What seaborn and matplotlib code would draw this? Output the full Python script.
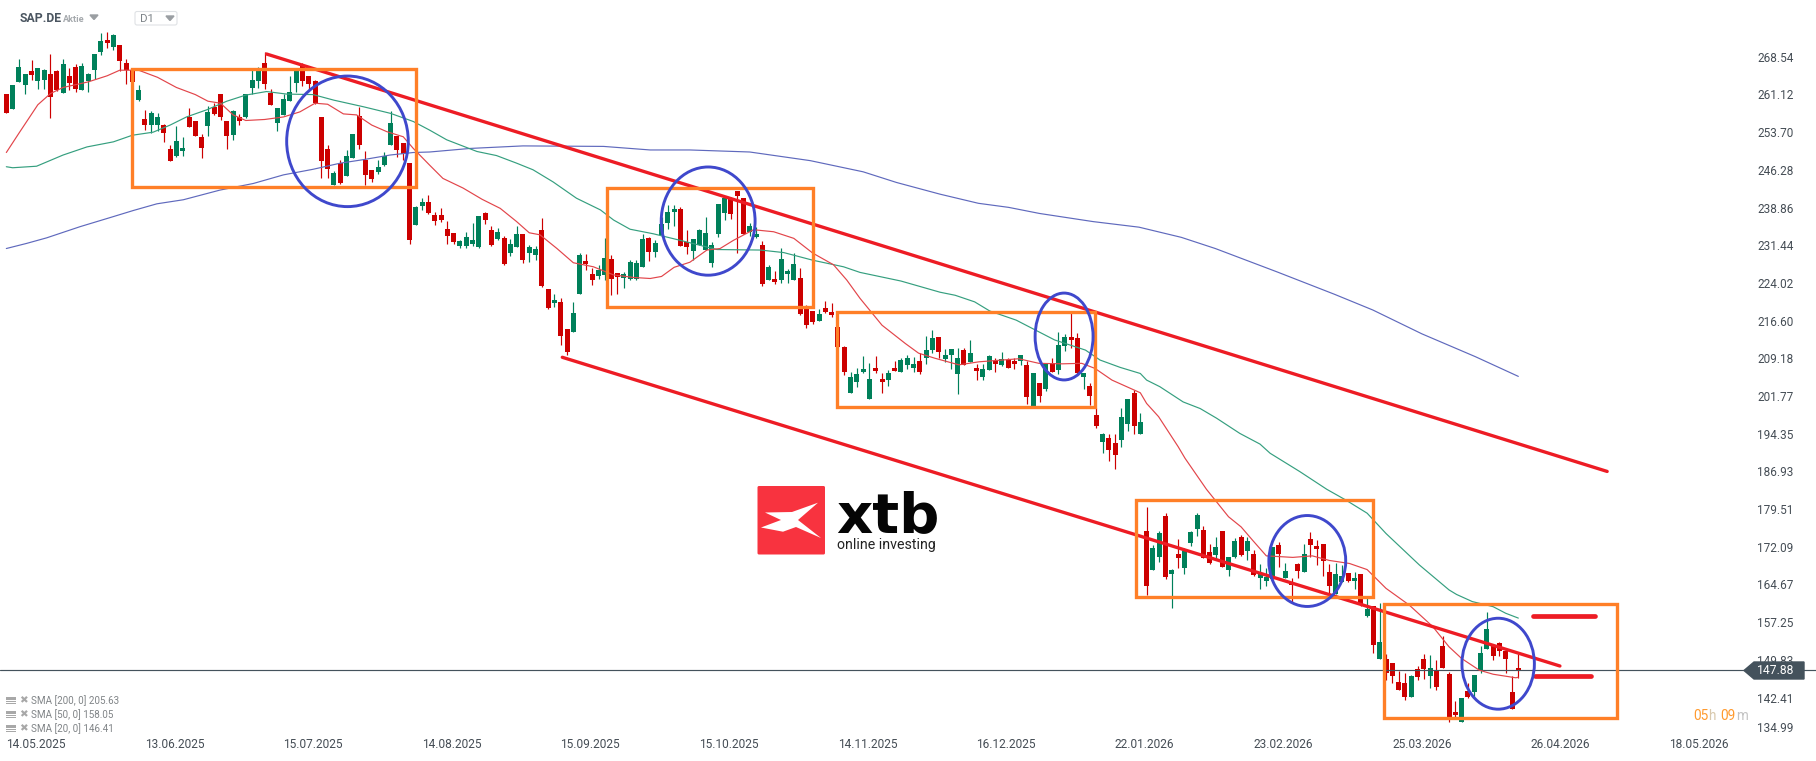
import numpy as np
import pandas as pd
import matplotlib
matplotlib.use('Agg')
import matplotlib.pyplot as plt
from matplotlib.patches import Rectangle, Ellipse, Polygon, FancyBboxPatch
import seaborn as sns

# daily candles
opens = [261.2, 258.3, 263.6, 262.9, 265.7, 263.8, 264.0, 265.2, 265.8, 261.5,
         264.8, 266.5, 262.1, 263.8, 265.9, 269.4, 271.9, 270.5, 270.9, 267.3,
         265.9, 260.0, 256.3, 255.1, 255.1, 255.1, 250.4, 249.0, 250.0, 256.7,
         255.9, 252.8, 254.9, 258.7, 261.2, 255.9, 253.2, 256.6, 256.7, 262.4,
         263.8, 267.3, 261.4, 255.6, 257.1, 259.8, 263.4, 266.7, 264.8, 263.8,
         256.7, 250.4, 243.3, 247.6, 245.1, 248.6, 256.9, 248.2, 246.3, 245.9,
         247.2, 251.2, 253.0, 251.6, 247.6, 235.4, 239.2, 240.0, 237.4, 237.4,
         234.6, 233.9, 231.3, 231.3, 231.7, 231.1, 237.8, 234.5, 232.7, 232.9,
         229.9, 231.1, 233.7, 229.9, 229.5, 234.5, 222.8, 220.1, 220.3, 215.0,
         214.4, 221.9, 228.4, 225.8, 225.4, 225.6, 228.7, 226.0, 225.0, 224.8,
         224.8, 227.2, 232.9, 230.1, 233.5, 235.8, 238.0, 238.6, 232.1, 230.3,
         231.5, 230.5, 228.0, 233.7, 237.8, 240.6, 242.1, 240.8, 234.1, 233.1,
         231.5, 224.6, 224.8, 224.6, 225.8, 224.6, 225.0, 218.9, 218.5, 216.5,
         219.1, 218.3, 215.3, 211.4, 202.4, 204.5, 206.5, 201.2, 207.3, 205.1,
         204.9, 207.3, 206.5, 207.9, 207.3, 208.7, 209.3, 210.8, 213.4, 209.0,
         209.8, 206.1, 210.8, 208.5, 207.3, 205.5, 206.9, 208.7, 207.9, 208.9,
         208.7, 208.7, 207.9, 199.8, 204.3, 203.2, 208.3, 206.9, 211.6, 213.4,
         213.2, 205.5, 203.7, 198.0, 192.7, 193.5, 192.5, 193.1, 196.3, 202.4,
         194.3, 175.2, 167.5, 170.1, 178.2, 166.7, 170.7, 167.9, 172.8, 175.6,
         175.4, 171.1, 170.5, 175.2, 167.5, 170.1, 174.0, 171.3, 170.7, 165.9,
         165.3, 165.7, 172.4, 165.9, 165.2, 168.7, 167.1, 173.6, 172.2, 172.6,
         167.1, 162.8, 165.2, 166.9, 165.3, 166.7, 158.5, 160.4, 150.0, 150.0,
         149.2, 145.5, 145.3, 142.5, 148.0, 150.0, 146.7, 147.8, 152.6, 147.0,
         139.6, 137.6, 143.7, 143.5, 147.6, 152.0, 152.8, 153.2, 151.6, 143.5,
         148.1]
highs = [261.3, 263.0, 268.2, 265.2, 268.0, 266.3, 266.1, 269.1, 265.9, 268.2,
         266.3, 267.1, 267.3, 265.3, 269.1, 273.2, 273.4, 273.0, 270.9, 268.2,
         265.9, 263.0, 258.1, 257.9, 257.4, 255.3, 251.2, 254.9, 252.8, 258.5,
         255.9, 253.3, 258.9, 259.4, 261.3, 255.9, 258.1, 257.3, 261.2, 265.9,
         266.5, 269.4, 262.2, 258.5, 261.3, 264.8, 265.7, 267.3, 264.8, 264.0,
         256.7, 251.2, 246.0, 248.2, 250.2, 253.3, 258.7, 250.0, 246.3, 248.2,
         249.8, 257.9, 253.0, 251.6, 247.6, 239.2, 240.7, 241.3, 238.0, 238.8,
         236.2, 233.9, 232.5, 234.1, 235.8, 237.2, 238.0, 235.2, 234.9, 233.3,
         232.7, 235.2, 233.7, 231.5, 231.3, 236.8, 222.8, 221.9, 221.1, 215.0,
         220.3, 229.9, 229.7, 227.0, 227.6, 232.9, 229.5, 226.0, 226.1, 228.5,
         228.5, 233.7, 233.1, 232.5, 237.1, 239.4, 239.4, 239.0, 234.5, 232.7,
         234.6, 237.0, 232.1, 239.6, 240.8, 241.0, 242.1, 240.8, 235.8, 235.0,
         232.3, 227.6, 226.4, 230.9, 226.8, 229.9, 227.0, 219.7, 218.5, 218.9,
         220.5, 220.1, 215.3, 211.6, 206.5, 207.3, 209.6, 208.3, 209.6, 206.3,
         206.9, 208.7, 209.3, 209.8, 209.5, 210.2, 213.6, 214.8, 213.4, 211.0,
         211.0, 211.2, 211.2, 212.8, 208.1, 208.1, 209.8, 209.3, 210.4, 209.3,
         209.3, 209.8, 208.7, 206.3, 204.3, 208.1, 209.3, 214.4, 214.0, 218.3,
         214.2, 206.3, 204.3, 199.4, 194.5, 194.3, 194.3, 199.4, 201.2, 202.9,
         198.4, 179.9, 172.4, 175.2, 178.7, 167.7, 173.6, 171.8, 175.2, 178.7,
         176.2, 172.6, 174.0, 175.2, 170.1, 173.8, 174.4, 174.0, 171.5, 168.7,
         167.9, 172.0, 173.0, 168.9, 165.9, 168.9, 172.6, 175.0, 173.4, 172.6,
         168.7, 168.9, 168.5, 166.9, 167.1, 166.7, 162.0, 160.4, 161.0, 151.0,
         149.2, 147.6, 147.2, 146.8, 148.6, 151.0, 150.8, 149.8, 154.5, 147.4,
         141.7, 142.3, 145.3, 146.8, 152.6, 159.3, 152.8, 153.3, 151.8, 146.7,
         151.0]
lows = [257.5, 258.3, 263.6, 261.2, 264.0, 262.2, 262.2, 256.4, 261.9, 261.5,
        262.0, 261.7, 262.0, 261.7, 264.1, 268.9, 270.3, 269.8, 265.8, 263.1,
        263.1, 259.8, 254.1, 253.6, 254.0, 251.8, 248.0, 248.9, 249.1, 254.7,
        253.0, 248.7, 253.0, 257.1, 256.1, 250.4, 252.2, 255.1, 256.4, 261.2,
        262.4, 262.2, 259.1, 253.9, 257.1, 259.8, 261.6, 262.8, 262.0, 259.2,
        244.7, 244.7, 243.3, 243.5, 245.0, 248.6, 250.4, 243.3, 243.9, 245.5,
        247.1, 251.2, 248.8, 248.2, 231.7, 235.4, 238.4, 237.6, 235.4, 236.0,
        231.7, 231.7, 230.9, 230.9, 231.3, 230.9, 235.6, 231.3, 232.5, 227.6,
        229.3, 231.1, 228.0, 228.2, 228.5, 223.2, 218.9, 219.3, 211.8, 209.9,
        214.4, 221.9, 226.6, 223.6, 224.8, 224.6, 221.7, 221.9, 223.0, 224.6,
        224.6, 227.2, 228.4, 229.1, 233.1, 234.6, 235.2, 231.3, 229.7, 228.5,
        231.5, 230.5, 227.2, 233.1, 236.4, 236.6, 229.9, 233.7, 233.3, 232.9,
        223.4, 224.6, 223.8, 224.0, 224.0, 224.6, 217.7, 215.2, 216.0, 216.5,
        218.1, 217.3, 211.4, 205.9, 202.4, 203.6, 206.3, 201.2, 206.3, 202.4,
        203.7, 206.7, 206.5, 207.1, 206.5, 206.1, 208.1, 210.2, 209.3, 208.5,
        207.1, 202.2, 207.9, 208.5, 204.9, 204.9, 206.9, 206.5, 207.7, 207.3,
        207.1, 207.9, 200.2, 199.8, 200.6, 202.8, 206.5, 206.1, 210.6, 211.2,
        206.1, 203.2, 200.0, 195.5, 190.6, 189.0, 187.4, 191.7, 194.9, 194.3,
        194.3, 162.6, 167.5, 169.1, 165.7, 160.0, 167.9, 166.7, 172.2, 174.2,
        169.9, 168.7, 169.5, 168.1, 166.3, 169.9, 170.3, 169.5, 166.3, 163.8,
        164.4, 165.7, 168.1, 165.9, 161.2, 165.9, 167.1, 170.1, 168.5, 166.3,
        162.6, 162.8, 165.2, 165.2, 163.8, 160.4, 158.3, 151.2, 150.0, 145.9,
        145.3, 143.9, 141.9, 142.5, 145.9, 146.1, 144.3, 143.9, 148.2, 137.6,
        138.6, 137.6, 142.3, 142.5, 147.2, 152.0, 149.8, 150.6, 147.2, 140.2,
        146.3]
closes = [257.5, 263.0, 266.5, 265.2, 265.0, 266.3, 265.9, 260.6, 262.0, 267.1,
          263.4, 262.2, 266.7, 265.2, 269.1, 271.7, 271.3, 272.8, 267.8, 265.9,
          263.6, 262.0, 255.1, 257.5, 256.7, 253.5, 248.0, 252.0, 250.6, 254.7,
          253.0, 250.6, 257.7, 257.3, 256.7, 253.0, 257.9, 255.9, 261.2, 264.0,
          265.7, 263.2, 259.1, 258.5, 260.2, 261.6, 265.7, 263.8, 263.2, 259.4,
          248.0, 246.5, 245.7, 243.7, 249.0, 253.3, 251.2, 245.3, 244.5, 246.9,
          249.0, 255.5, 250.2, 249.4, 232.5, 239.0, 240.0, 237.8, 236.2, 236.4,
          233.3, 232.1, 232.3, 233.1, 232.5, 237.2, 236.4, 231.5, 234.1, 227.8,
          231.7, 233.7, 228.5, 231.1, 230.7, 223.4, 219.1, 220.7, 213.6, 210.4,
          218.1, 229.5, 227.8, 224.6, 226.6, 228.9, 224.8, 225.2, 225.8, 228.2,
          228.0, 232.7, 230.1, 231.9, 235.6, 238.0, 238.6, 231.3, 231.1, 232.7,
          234.5, 233.9, 231.5, 239.6, 240.8, 237.6, 241.1, 233.7, 235.2, 233.7,
          223.8, 227.2, 224.2, 228.7, 226.4, 227.8, 217.9, 215.8, 216.4, 217.9,
          218.3, 217.7, 211.4, 206.5, 205.5, 206.1, 207.1, 205.1, 206.7, 204.5,
          206.3, 206.7, 208.9, 209.3, 208.1, 206.5, 210.8, 213.2, 210.4, 209.8,
          211.0, 209.3, 207.9, 210.2, 206.7, 207.1, 209.6, 208.1, 209.1, 207.3,
          208.1, 209.8, 201.6, 206.3, 201.8, 208.1, 206.5, 211.8, 213.4, 212.8,
          206.3, 206.3, 201.8, 195.9, 194.3, 191.1, 190.2, 197.6, 201.2, 195.9,
          196.7, 164.4, 171.9, 174.8, 166.1, 167.5, 169.9, 171.3, 175.0, 178.3,
          169.9, 168.9, 172.0, 168.1, 170.1, 173.2, 170.5, 173.2, 166.5, 166.7,
          166.1, 172.0, 170.7, 167.3, 164.6, 167.3, 170.7, 172.4, 171.6, 169.3,
          164.4, 166.7, 166.3, 165.3, 165.9, 160.6, 159.8, 152.8, 153.3, 147.2,
          146.7, 143.9, 142.5, 146.7, 146.5, 148.0, 148.2, 144.5, 148.2, 138.6,
          139.0, 142.3, 142.5, 146.8, 151.2, 155.9, 150.6, 151.6, 150.0, 140.2,
          147.88]

sma20_x = [0, 2, 5, 7, 9, 13, 16, 18, 21, 24, 27, 30, 32, 34, 36, 38, 41, 44, 46.6, 49,
           51, 53.5, 55.6, 58, 60.4, 63, 64.6, 67.2, 69.3, 72.5, 75.5, 78.4, 81, 83, 84.7,
           87.4, 90, 93.2, 96.4, 99.6, 102.2, 104, 106, 108.5, 111.2, 113.3, 115.4, 118.6,
           121.8, 125, 128, 131.3, 133.4, 135.5, 139, 142.7, 144.8, 147.4, 151.2, 154.4,
           158.6, 160.7, 163.9, 167.6, 170.7, 172.8, 175.5, 180, 181, 182.9, 186, 187.1,
           190.5, 194, 196, 197.8, 200, 204.2, 207.3, 210, 213.2, 216, 219, 222.7, 226.4,
           229, 231, 233.8, 236, 239.6, 240]
sma20_y = [249.7, 253.5, 259.1, 261.3, 262.5, 263.6, 264.8, 265.9, 265.9, 264.5, 262.5, 261.1,
           259.8, 259.4, 257.1, 256.0, 256.2, 256.7, 257.7, 259.4, 259.2, 257.3, 257.1, 255.1,
           253.8, 252.8, 250.5, 247.2, 244.6, 242.7, 240.5, 238.7, 236.1, 233.9, 233.5, 230.8,
           228.0, 227.2, 225.6, 225.1, 224.9, 225.3, 227.1, 228.1, 230.5, 230.8, 232.4, 234.5,
           234.1, 232.8, 229.9, 227.6, 224.6, 221.0, 215.7, 212.1, 210.2, 209.2, 207.9, 208.5,
           208.9, 209.1, 208.2, 208.1, 208.2, 207.2, 204.9, 202.4, 200.3, 197.7, 191.8, 189.5,
           183.4, 178.0, 176.0, 173.4, 170.3, 170.0, 170.3, 169.4, 168.8, 167.6, 163.9, 160.6,
           156.4, 152.4, 150.1, 147.8, 147.0, 146.3, 146.41]

sma50_x = [0, 1, 4.8, 9, 12.8, 17, 20, 23.3, 26, 28.6, 31.8, 35, 38, 41.3, 44.5, 48.7, 52,
           56.7, 61, 64.6, 67.2, 69.9, 74.7, 77.8, 81, 83.6, 86.8, 90.5, 94.3, 96.4, 99,
           102.7, 107, 112.8, 119.7, 123.4, 128, 132.9, 135.5, 142, 148.2, 150.6, 153.7,
           156.1, 160.3, 162.8, 166.4, 171.3, 173.6, 176.8, 180, 181, 183.1, 186.8, 189.5,
           192.1, 195.8, 199, 200.6, 205.3, 209.6, 212.6, 216, 219, 224.3, 229, 230.2,
           232.7, 236, 238, 240]
sma50_y = [246.9, 246.7, 247.0, 249.2, 250.8, 251.8, 253.1, 253.7, 255.1, 256.7, 258.1, 259.8,
           261.0, 261.7, 261.2, 261.1, 260.0, 258.7, 257.4, 255.8, 254.1, 252.2, 249.9, 249.1,
           247.6, 246.3, 243.9, 240.7, 238.4, 236.4, 234.6, 233.7, 232.4, 230.6, 230.5, 230.0,
           228.5, 227.2, 226.1, 224.4, 222.2, 221.6, 220.3, 218.5, 216.7, 215.1, 212.8, 210.8,
           208.85, 207.4, 206.2, 204.9, 203.6, 200.6, 199.3, 197.4, 194.4, 192.3, 190.5, 186.9,
           183.4, 181.3, 178.7, 174.7, 168.5, 163.6, 162.7, 161.3, 160.3, 159.0, 158.05]

sma200_x = [0, 3.2, 6.4, 11.7, 16.5, 20.2, 23.9, 28.1, 33.9, 39.2, 44, 48.7, 53, 56.7, 60.9,
            64.6, 67.2, 73.6, 82, 94.8, 102.2, 108.5, 118, 127.6, 136, 141.3, 148.2, 154.3,
            159.1, 164, 172.5, 179.8, 186.5, 191.9, 201.7, 210.8, 216.9, 224.7, 233.2, 240]
sma200_y = [230.8, 231.8, 232.9, 235.1, 236.9, 238.3, 239.6, 240.4, 242.3, 243.6, 245.3, 246.4,
            247.6, 248.3, 249.2, 249.7, 249.8, 250.5, 251.0, 250.9, 250.2, 250.2, 249.8, 248.1,
            245.9, 243.8, 241.5, 239.7, 238.9, 237.7, 236.1, 235.0, 233.0, 230.8, 226.2, 221.8,
            218.7, 214.0, 209.5, 205.63]

price_ticks = [268.54, 261.12, 253.70, 246.28, 238.86, 231.44, 224.02, 216.60, 209.18, 201.77,
               194.35, 186.93, 179.51, 172.09, 164.67, 157.25, 149.83, 142.41, 134.99]
date_labels = ['14.05.2025', '13.06.2025', '15.07.2025', '14.08.2025', '15.09.2025',
               '15.10.2025', '14.11.2025', '16.12.2025', '22.01.2026', '23.02.2026',
               '25.03.2026', '26.04.2026', '18.05.2026']
date_pos = [4.7, 26.7, 48.7, 70.7, 92.7, 114.7, 136.7, 158.7, 180.7, 202.7, 224.7, 246.7, 268.7]
last_price = 147.88

# drawn annotations in (index, price)
boxes_x0 = [20.0, 95.4, 131.9, 179.3, 218.7]
boxes_x1 = [65.0, 128.1, 172.8, 217.0, 255.7]
boxes_top = [266.08, 242.65, 218.36, 181.29, 160.88]
boxes_bot = [242.97, 219.23, 199.66, 162.26, 138.32]
circ_x = [54.15, 111.4, 167.9, 206.5, 236.8]
circ_y = [251.9, 236.2, 213.48, 169.29, 149.07]
circ_w = [19.3, 14.9, 9.2, 12.2, 11.5]
circ_h = [25.7, 21.3, 17.1, 17.9, 17.9]
trend_upper_x, trend_upper_y = [41.3, 254.1], [269.09, 186.92]
trend_lower_x, trend_lower_y = [88.25, 246.6], [209.39, 148.62]
levels = [(242.3, 252.2, 158.4), (242.6, 251.6, 146.59)]

RED = '#cc0000'
GREEN = '#00805a'
TEXT = '#454d55'

sns.set_theme(style='white')
plt.rcParams['font.family'] = ['Roboto', 'DejaVu Sans']

fig = plt.figure(figsize=(18.16, 7.61), dpi=100)
ax = fig.add_axes([0, 0, 1, 1])

df = pd.DataFrame({'open': opens, 'high': highs, 'low': lows, 'close': closes})
df['i'] = df.index
df['color'] = np.where(df['close'] >= df['open'], GREEN, RED)
df.loc[df.index[-1], 'color'] = RED

ax.vlines(df['i'], df['low'], df['high'], colors=df['color'], linewidth=0.85, zorder=2)
body = (df['close'] - df['open']).abs().clip(lower=0.25)
ax.bar(df['i'], body, bottom=df[['open', 'close']].min(axis=1), width=0.8,
       color=df['color'], linewidth=0, zorder=2.1)

sns.lineplot(x=sma200_x, y=sma200_y, ax=ax, color='#5f69bd', linewidth=0.85,
             estimator=None, sort=False, zorder=3)
sns.lineplot(x=sma50_x, y=sma50_y, ax=ax, color='#359f7f', linewidth=0.85,
             estimator=None, sort=False, zorder=3)
sns.lineplot(x=sma20_x, y=sma20_y, ax=ax, color='#e2454a', linewidth=0.85,
             estimator=None, sort=False, zorder=3)

ax.axhline(last_price, color='#44525c', linewidth=0.85, zorder=2.5)

ax.plot(trend_upper_x, trend_upper_y, color='#ed1c24', linewidth=2.4, zorder=4)
ax.plot(trend_lower_x, trend_lower_y, color='#ed1c24', linewidth=2.4, zorder=4)
for x0, x1, y in levels:
    ax.plot([x0, x1], [y, y], color='#ed1c24', linewidth=3.4, solid_capstyle='round', zorder=4)

for x0, x1, top, bot in zip(boxes_x0, boxes_x1, boxes_top, boxes_bot):
    ax.add_patch(Rectangle((x0, bot), x1 - x0, top - bot, fill=False, edgecolor='#ff7f27',
                           linewidth=2.4, zorder=5))
for cx, cy, w, h in zip(circ_x, circ_y, circ_w, circ_h):
    ax.add_patch(Ellipse((cx, cy), w, h, fill=False, edgecolor='#3f48cc', linewidth=2.1, zorder=6))

ax.set_xlim(-1.005, 287.25)
ax.set_ylim(129.92, 279.72)
ax.yaxis.tick_right()
ax.set_yticks(price_ticks)
ax.set_yticklabels([f'{v:.2f}' for v in price_ticks])
ax.set_xticks(date_pos)
ax.set_xticklabels(date_labels)
ax.tick_params(axis='y', length=0, pad=-42.5, labelsize=8.5, labelcolor=TEXT)
ax.tick_params(axis='x', length=0, pad=-16.5, labelsize=8.6, labelcolor=TEXT)
# the platform pushes the lowest price label up a little
ax.get_yticklabels()[-1].set_verticalalignment('bottom')
ax.grid(False)
sns.despine(ax=ax, left=True, right=True, top=True, bottom=True)

# overlay in pixels for the platform furniture and the logo
ov = fig.add_axes([0, 0, 1, 1], facecolor='none')
ov.set_xlim(0, 1816)
ov.set_ylim(761, 0)
ov.axis('off')

ov.text(20, 18.5, 'SAP.DE', fontsize=8.8, fontweight='bold', color='#4a5560', va='center')
ov.text(63, 19, 'Aktie', fontsize=6.6, fontweight='bold', color='#a5a9ad', va='center')
ov.add_patch(Polygon([(90, 15), (98, 15), (94, 19.5)], color='#9a9ea2'))
ov.add_patch(FancyBboxPatch((135, 11.5), 42, 13.5, boxstyle='round,pad=0,rounding_size=2',
                            fill=False, edgecolor='#dfe2e5', linewidth=0.8))
ov.text(140, 19, 'D1', fontsize=8.2, color='#7d8388', va='center')
ov.add_patch(Polygon([(166, 16), (174, 16), (170, 20.5)], color='#9a9ea2'))

sma_labels = ['SMA [200, 0] 205.63', 'SMA [50, 0] 158.05', 'SMA [20, 0] 146.41']
for y, label in zip([701, 715, 729], sma_labels):
    ov.add_patch(Rectangle((6, y - 4.5), 10, 3.5, color='#a8a8a8', linewidth=0))
    ov.add_patch(Rectangle((6, y), 10, 0.9, color='#a8a8a8', linewidth=0))
    ov.add_patch(Rectangle((6, y + 2), 10, 0.9, color='#a8a8a8', linewidth=0))
    ov.text(23, y - 0.5, '✖', fontsize=7.5, color='#a8a8a8', ha='center', va='center',
            family='DejaVu Sans')
    ov.text(31, y, label, fontsize=7.1, color='#808487', va='center')

# last price flag
ov.add_patch(Polygon([(1744, 670.5), (1754, 662), (1804, 662), (1804, 679), (1754, 679)],
                     color='#44525c', zorder=8))
ov.text(1757, 671, f'{last_price:.2f}', color='white', fontsize=8.7, va='center', zorder=9)

# countdown
for x, part, col in [(1693.3, '05', '#ff9a2e'), (1708.3, 'h', '#d9c9ad'),
                     (1720.7, '09', '#ff9a2e'), (1736, 'm', '#c4c4c4')]:
    ov.text(x, 716, part, color=col, fontsize=9.8, va='center')

# logo
ov.add_patch(FancyBboxPatch((757.5, 486), 67.5, 68.5, boxstyle='round,pad=0,rounding_size=1.5',
                            facecolor='#f8333f', edgecolor='none'))
ov.add_patch(Polygon([(765, 512.5), (792, 512), (818, 502.7), (798, 520), (821, 538),
                      (796, 527), (783, 531.7), (761, 527.5), (781, 520)],
                     facecolor='white', edgecolor='none'))
ov.text(836, 532, 'xtb', fontsize=40.5, fontweight='bold', color='#050505', va='baseline',
        family='DejaVu Sans')
ov.text(837, 544.5, 'online investing', fontsize=10.2, color='#222222', va='center')

assert len(opens) == len(highs) == len(lows) == len(closes)
fig.savefig('out.png', dpi=100)
